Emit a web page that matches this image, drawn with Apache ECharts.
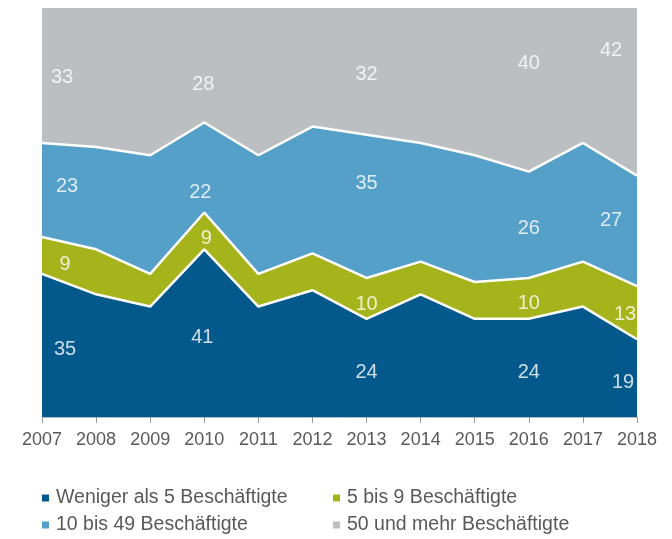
<!DOCTYPE html>
<html>
<head>
<meta charset="utf-8">
<script src="https://cdn.jsdelivr.net/npm/echarts@6/dist/echarts.min.js"></script>
<style>
  html, body { margin: 0; padding: 0; background: #ffffff; }
  #chart { width: 672px; height: 539px; }
</style>
</head>
<body>
<div id="chart"></div>
<script>
// Jahre
const years = ["2007", "2008", "2009", "2010", "2011", "2012", "2013", "2014", "2015", "2016", "2017", "2018"];

// Anteile in Prozent
const weniger5 = [35, 30, 27, 41, 27, 31, 24, 30, 24, 24, 27, 19];
const bis9 = [9, 11, 8, 9, 8, 9, 10, 8, 9, 10, 11, 13];
const bis49 = [23, 25, 29, 22, 29, 31, 35, 29, 31, 26, 29, 27];
const mehr50 = [33, 34, 36, 28, 36, 29, 32, 33, 36, 40, 33, 42];

// Jahre mit Beschriftung
const labelIdx = [0, 3, 6, 9, 11];

// Verschiebung der Beschriftung (px) je Reihe und beschriftetem Jahr
const labelNudge = [
  [[23, 4], [-2, 4], [0, 5], [0, 5], [-14, 4]],
  [[23, 9], [2, 8], [0, 6], [0, 5], [-12, 2]],
  [[25, -4], [-4, 25], [0, -23], [0, 4], [-26, -10]],
  [[20, 2], [-1, 19], [0, 3], [0, -26], [-26, -41]]
];

const names = ["Weniger als 5 Beschäftigte", "5 bis 9 Beschäftigte", "10 bis 49 Beschäftigte", "50 und mehr Beschäftigte"];
const colors = ["#03598b", "#a6b41b", "#55a0c8", "#bcbfc2"];
const font = "Liberation Sans, Arial, sans-serif";

let myChart = echarts.init(document.getElementById("chart"));
let stackData = [weniger5, bis9, bis49, mehr50];

// Flächen
let series = stackData.map((d, i) => ({
  name: names[i],
  type: "line",
  stack: "gesamt",
  data: d,
  symbol: "none",
  z: 10 - i,
  color: colors[i],
  lineStyle: { color: "#ffffff", width: i === 3 ? 0 : 2.5 },
  areaStyle: { color: colors[i], opacity: 1 }
}));

// Beschriftung in der Mitte jeder Fläche
stackData.forEach((d, i) => {
  let pts = labelIdx.map((k, n) => {
    let base = 0;
    for (let j = 0; j < i; j++) base += stackData[j][k];
    let mid = base + d[k] / 2;
    if (i === 3) mid = base + (100 - base) / 2;
    return {
      value: [k, mid, d[k]],
      label: { offset: labelNudge[i][n] }
    };
  });
  series.push({
    type: "scatter",
    data: pts,
    symbolSize: 0,
    z: 20,
    silent: true,
    label: {
      show: true,
      position: "inside",
      color: "#ffffff",
      fontSize: 20,
      fontFamily: font,
      formatter: p => p.value[2]
    }
  });
});

// Legende: je Eintrag eine eigene Legende (zwei Spalten, zwei Zeilen)
const legendPos = [[42, 487], [333, 487], [42, 514], [333, 514]];
let legends = names.map((n, i) => ({
  data: [n],
  left: legendPos[i][0],
  top: legendPos[i][1],
  padding: 0,
  icon: "rect",
  itemWidth: 7,
  itemHeight: 7,
  textStyle: { color: "#595959", fontSize: 19.5, fontFamily: font, lineHeight: 22, padding: [0, 0, 0, 2] }
}));

let option = {
  animation: false,
  grid: { left: 42, right: 35, top: 8, bottom: 122 },
  legend: legends,
  xAxis: {
    type: "category",
    boundaryGap: false,
    data: years,
    axisLine: { lineStyle: { color: "#b4bcc4", width: 1 } },
    axisTick: { show: true, length: 6, lineStyle: { color: "#9a9a9a" } },
    axisLabel: { color: "#595959", fontSize: 18, fontFamily: font, margin: 14 }
  },
  yAxis: {
    type: "value",
    min: 0,
    max: 100,
    show: false
  },
  series: series
};
myChart.setOption(option);
</script>
</body>
</html>
